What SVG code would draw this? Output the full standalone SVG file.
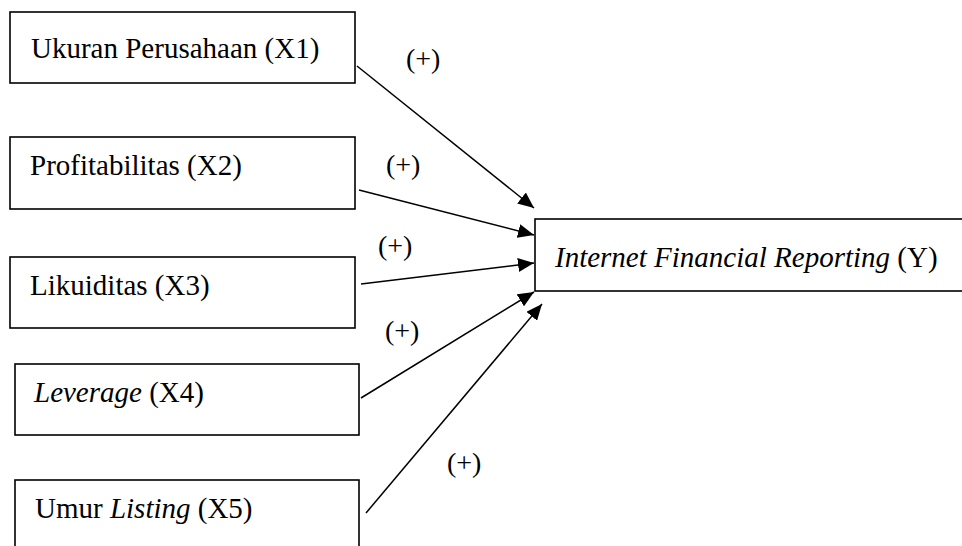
<svg xmlns="http://www.w3.org/2000/svg" width="962" height="546" viewBox="0 0 962 546" font-family="'Liberation Serif', 'DejaVu Serif', serif">
<style>
.box{fill:#fff;stroke:#000;stroke-width:1.6}
.t{font-family:'Liberation Serif','DejaVu Serif',serif;font-size:29px;fill:#000}
.i{font-style:italic}
.c{stroke:#000;stroke-width:1.5;fill:none}
.p{font-family:'Liberation Serif','DejaVu Serif',serif;font-size:28px;fill:#000}
</style>
<defs>
<marker id="ah" markerUnits="userSpaceOnUse" markerWidth="18" markerHeight="14" refX="16" refY="7" orient="auto">
<path d="M0,0 L16,7 L0,14 Z" fill="#000"/>
</marker>
</defs>
<rect width="962" height="546" fill="#fff"/>
<g id="x1"><rect class="box" x="10" y="12" width="345" height="71"/><text class="t" x="31" y="58">Ukuran Perusahaan (X1)</text></g>
<g id="x2"><rect class="box" x="10" y="137" width="345" height="72"/><text class="t" x="30" y="175">Profitabilitas (X2)</text></g>
<g id="x3"><rect class="box" x="10" y="257" width="345" height="71"/><text class="t" x="30" y="295">Likuiditas (X3)</text></g>
<g id="x4"><rect class="box" x="15" y="364" width="344" height="71"/><text class="t" x="34" y="402"><tspan class="i">Leverage</tspan> (X4)</text></g>
<g id="x5"><rect class="box" x="15" y="480" width="344" height="80"/><text class="t" x="35" y="518">Umur <tspan class="i">Listing</tspan> (X5)</text></g>
<g id="y"><rect class="box" x="535" y="219" width="440" height="72"/><text class="t" x="555" y="267"><tspan class="i">Internet Financial Reporting</tspan> (Y)</text></g>
<g id="connectors">
<line class="c" x1="357" y1="66" x2="534" y2="208" marker-end="url(#ah)"/>
<line class="c" x1="359" y1="190" x2="534" y2="235" marker-end="url(#ah)"/>
<line class="c" x1="361" y1="284" x2="534" y2="263" marker-end="url(#ah)"/>
<line class="c" x1="361" y1="398" x2="534" y2="292" marker-end="url(#ah)"/>
<line class="c" x1="366" y1="513" x2="542" y2="304" marker-end="url(#ah)"/>
</g>
<g id="labels">
<text class="p" x="406" y="68">(+)</text>
<text class="p" x="386" y="174">(+)</text>
<text class="p" x="378" y="255">(+)</text>
<text class="p" x="385" y="340">(+)</text>
<text class="p" x="447" y="472">(+)</text>
</g>
</svg>
